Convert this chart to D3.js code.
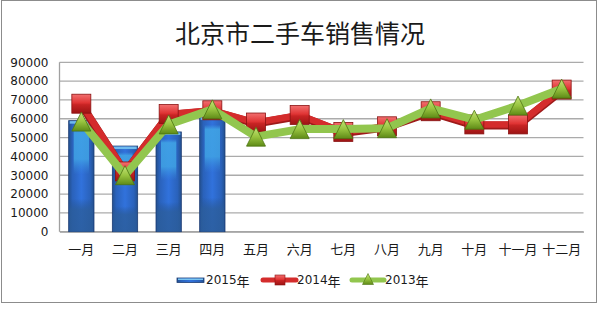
<!DOCTYPE html>
<html>
<head>
<meta charset="utf-8">
<script src="https://cdn.jsdelivr.net/npm/d3@7"></script>
<style>
  html, body { margin: 0; padding: 0; background: #fff; }
  svg { display: block; }
  text { font-family: "DejaVu Sans", "Noto Sans CJK SC", sans-serif; fill: #1a1a1a; }
  .cjk { font-family: "Noto Sans CJK SC", "DejaVu Sans", sans-serif; }
</style>
</head>
<body>
<svg id="chart" width="600" height="327"></svg>
<script>
// Monthly used-car sales in Beijing
const months = ["一月", "二月", "三月", "四月", "五月", "六月", "七月", "八月", "九月", "十月", "十一月", "十二月"];
const sales2015 = [59000, 45500, 53000, 61000];
const sales2014 = [68000, 32000, 62500, 64500, 58000, 62000, 53000, 56000, 64000, 57000, 57000, 75500];
const sales2013 = [58500, 30000, 57000, 65000, 50500, 54500, 54500, 55000, 65500, 59500, 67000, 76000];
const yTicks = [0, 10000, 20000, 30000, 40000, 50000, 60000, 70000, 80000, 90000];
const seriesNames = ["2015年", "2014年", "2013年"];
const titleText = "北京市二手车销售情况";

const svg = d3.select("#chart");
const plot = { left: 59.5, right: 583.5, top: 62.3, bottom: 231.7 };

const x = d3.scaleBand().domain(months).range([plot.left, plot.right])
  .paddingInner(0.42).paddingOuter(0.21);
const y = d3.scaleLinear().domain([0, 90000]).range([plot.bottom, plot.top]);
const cx = m => x(m) + x.bandwidth() / 2;

// ---- gradients ----
const defs = svg.append("defs");
const barH = defs.append("linearGradient").attr("id", "barH").attr("x1", 0).attr("x2", 1).attr("y1", 0).attr("y2", 0);
[[0, "#23508f"], [0.15, "#2a62bb"], [0.5, "#3172dc"], [0.85, "#2a62bb"], [1, "#23508f"]]
  .forEach(([o, c]) => barH.append("stop").attr("offset", o).attr("stop-color", c));
// light cyan block in the upper part of each bar
const barGlow = defs.append("linearGradient").attr("id", "barGlow").attr("x1", 0).attr("x2", 0).attr("y1", 0).attr("y2", 1);
[[0, "#3f9fe4", 0.0], [0.06, "#3f9fe4", 0.0], [0.1, "#41a6e6", 0.85], [0.34, "#41a6e6", 0.8], [0.48, "#3a8ee2", 0.0], [1, "#3a8ee2", 0.0]]
  .forEach(([o, c, a]) => barGlow.append("stop").attr("offset", o).attr("stop-color", c).attr("stop-opacity", a));
// darker band at the base of each bar
const barBase = defs.append("linearGradient").attr("id", "barBase").attr("x1", 0).attr("x2", 0).attr("y1", 0).attr("y2", 1);
[[0, "#24508c", 0.0], [0.7, "#24508c", 0.0], [0.8, "#2b5c98", 0.75], [1, "#2b5c98", 0.8]]
  .forEach(([o, c, a]) => barBase.append("stop").attr("offset", o).attr("stop-color", c).attr("stop-opacity", a));
const sq = defs.append("linearGradient").attr("id", "sq").attr("x1", 0).attr("x2", 0).attr("y1", 0).attr("y2", 1);
[[0, "#f27070"], [0.45, "#e03434"], [0.55, "#c82424"], [1, "#9c1414"]]
  .forEach(([o, c]) => sq.append("stop").attr("offset", o).attr("stop-color", c));
const tri = defs.append("linearGradient").attr("id", "tri").attr("x1", 0).attr("x2", 0).attr("y1", 0).attr("y2", 1);
[[0, "#c6e37a"], [0.5, "#98c440"], [1, "#5e8a16"]]
  .forEach(([o, c]) => tri.append("stop").attr("offset", o).attr("stop-color", c));

// ---- chart frame ----
svg.append("rect").attr("x", 1.5).attr("y", 0.5).attr("width", 595).attr("height", 302)
  .attr("fill", "#fff").attr("stroke", "#8c8c8c").attr("stroke-width", 1);

// ---- title ----
svg.append("text").attr("class", "cjk").attr("x", 300).attr("y", 32)
  .attr("text-anchor", "middle").attr("dominant-baseline", "central")
  .attr("font-size", 25).attr("fill", "#111").text(titleText);

// ---- grid + y axis ----
svg.append("g").selectAll("line").data(yTicks).join("line")
  .attr("x1", plot.left).attr("x2", plot.right)
  .attr("y1", d => y(d)).attr("y2", d => y(d))
  .attr("stroke", "#ababab").attr("stroke-width", 1.3);
svg.append("line").attr("x1", plot.left).attr("x2", plot.left)
  .attr("y1", plot.top).attr("y2", plot.bottom).attr("stroke", "#a0a0a0").attr("stroke-width", 1.3);

const yAxis = svg.append("g").attr("transform", `translate(${plot.left},0)`)
  .call(d3.axisLeft(y).tickValues(yTicks).tickSize(0).tickPadding(11).tickFormat(d3.format("d")));
yAxis.select(".domain").remove();
yAxis.selectAll("text").attr("font-size", 12).attr("font-family", "DejaVu Sans").attr("fill", "#1a1a1a");

// ---- x axis ----
const xAxis = svg.append("g").attr("transform", `translate(0,${plot.bottom})`)
  .call(d3.axisBottom(x).tickSize(0).tickPadding(13));
xAxis.select(".domain").attr("stroke", "#a0a0a0").attr("stroke-width", 1.3);
xAxis.selectAll("text").attr("class", "cjk").attr("font-size", 13).attr("fill", "#1a1a1a");

// ---- 2015 bars ----
const bars = svg.append("g").selectAll("g").data(sales2015).join("g");
bars.append("rect")
  .attr("x", (d, i) => x(months[i])).attr("width", x.bandwidth())
  .attr("y", d => y(d)).attr("height", d => y(0) - y(d))
  .attr("fill", "url(#barH)").attr("stroke", "#1d3d74").attr("stroke-width", 0.8);
bars.append("rect")
  .attr("x", (d, i) => x(months[i]) + 1).attr("width", x.bandwidth() - 2)
  .attr("y", d => y(d) + 1).attr("height", d => y(0) - y(d) - 1)
  .attr("fill", "url(#barBase)");
bars.append("rect")
  .attr("x", (d, i) => x(months[i]) + 5).attr("width", x.bandwidth() - 10)
  .attr("y", d => y(d) + 1).attr("height", d => y(0) - y(d) - 1)
  .attr("rx", 2).attr("fill", "url(#barGlow)");
bars.append("rect")
  .attr("x", (d, i) => x(months[i]) + 1).attr("width", x.bandwidth() - 2)
  .attr("y", d => y(d) + 0.5).attr("height", 2.5)
  .attr("fill", "#78c4f2").attr("opacity", 0.9);

// ---- 2014 line + square markers ----
const line = d3.line().x((d, i) => cx(months[i])).y(d => y(d));
svg.append("path").datum(sales2014).attr("d", line).attr("transform", "translate(0,1)")
  .attr("fill", "none").attr("stroke", "#9e1a1a").attr("stroke-width", 8).attr("stroke-linejoin", "round");
svg.append("path").datum(sales2014).attr("d", line)
  .attr("fill", "none").attr("stroke", "#d42c2c").attr("stroke-width", 6.5).attr("stroke-linejoin", "round");
const sqSize = 19;
svg.append("g").selectAll("rect").data(sales2014).join("rect")
  .attr("x", (d, i) => cx(months[i]) - sqSize / 2).attr("y", d => y(d) - sqSize / 2)
  .attr("width", sqSize).attr("height", sqSize)
  .attr("fill", "url(#sq)").attr("stroke", "#8a1212").attr("stroke-width", 0.8);

// ---- 2013 line + triangle markers ----
svg.append("path").datum(sales2013).attr("d", line)
  .attr("fill", "none").attr("stroke", "#92c64e").attr("stroke-width", 8).attr("stroke-linejoin", "round");
const triSize = 19;
const triPath = (px, py, s) => `M${px},${py - s / 2}L${px + s / 2},${py + s / 2}L${px - s / 2},${py + s / 2}Z`;
svg.append("g").selectAll("path").data(sales2013).join("path")
  .attr("d", (d, i) => triPath(cx(months[i]), y(d), triSize))
  .attr("fill", "url(#tri)").attr("stroke", "#4d7512").attr("stroke-width", 0.8).attr("stroke-linejoin", "round");

// ---- legend ----
const lg = svg.append("g").attr("transform", "translate(0,280)");
// 2015
lg.append("rect").attr("x", 177).attr("y", -2).attr("width", 27).attr("height", 4.5)
  .attr("fill", "url(#barH)").attr("stroke", "#1d3d74").attr("stroke-width", 0.8);
lg.append("rect").attr("x", 178).attr("y", -1.5).attr("width", 25).attr("height", 1.5).attr("fill", "#7cc6f2");
// 2014
lg.append("line").attr("x1", 263).attr("x2", 296).attr("y1", 0).attr("y2", 0)
  .attr("stroke", "#d42c2c").attr("stroke-width", 5).attr("stroke-linecap", "round");
lg.append("rect").attr("x", 275).attr("y", -5).attr("width", 10).attr("height", 10)
  .attr("fill", "url(#sq)").attr("stroke", "#8a1212").attr("stroke-width", 0.6);
// 2013
lg.append("line").attr("x1", 352).attr("x2", 384).attr("y1", 0).attr("y2", 0)
  .attr("stroke", "#92c64e").attr("stroke-width", 5).attr("stroke-linecap", "round");
lg.append("path").attr("d", triPath(368, -1, 11))
  .attr("fill", "url(#tri)").attr("stroke", "#4d7512").attr("stroke-width", 0.6);

const legendX = [206, 297, 385];
lg.selectAll("text.lbl").data(seriesNames).join("text").attr("class", "lbl")
  .attr("x", (d, i) => legendX[i]).attr("y", 0).attr("dominant-baseline", "central")
  .attr("font-size", 13).attr("fill", "#1a1a1a")
  .each(function (d) {
    const t = d3.select(this);
    t.append("tspan").attr("font-family", "DejaVu Sans").attr("font-size", 12).text(d.slice(0, 4));
    t.append("tspan").attr("font-family", "Noto Sans CJK SC").text(d.slice(4));
  });
</script>
</body>
</html>
